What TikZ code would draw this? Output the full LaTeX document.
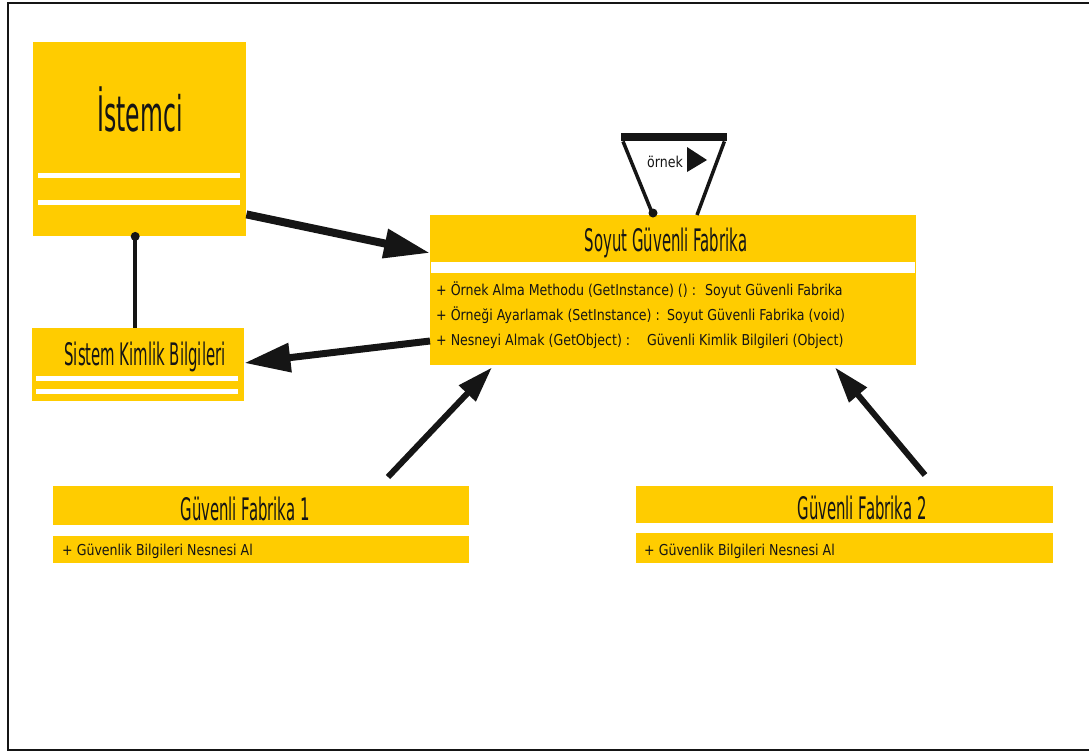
\documentclass[tikz,border=0pt]{standalone}
\usepackage{fontspec}
\usetikzlibrary{arrows.meta}
\setmainfont{DejaVu Sans}
\newfontfamily\titlefont{DejaVu Sans}[FakeStretch=0.48]
\newfontfamily\bodyfont{DejaVu Sans}[FakeStretch=0.84]
\definecolor{umlyellow}{HTML}{FFCC00}
\definecolor{ink}{HTML}{151515}
\tikzset{
  classbox/.style={fill=umlyellow, draw=none, inner sep=0pt, anchor=north west},
  titletext/.style={anchor=base, inner sep=0pt, text=ink, font=\titlefont\fontsize{31}{34}\selectfont},
  bigtitle/.style={titletext, font=\titlefont\fontsize{49}{54}\selectfont},
  optext/.style={anchor=base west, inner sep=0pt, text=ink, font=\bodyfont\fontsize{15}{18}\selectfont},
  divider/.style={draw=white, line width=5pt},
  band/.style={fill=white},
  bigarrow/.style={draw=ink, line width=8pt, -{Triangle[length=46pt,width=28pt]}},
  smallarrow/.style={draw=ink, line width=6pt, -{Triangle[length=36pt,width=22pt]}},
  assoc/.style={draw=ink, line width=3.5pt},
}
\begin{document}
\begin{tikzpicture}[x=1pt, y=-1pt]
\useasboundingbox (0,0) rectangle (1089,753);

% outer frame (right edge runs off the page)
\draw[ink, line width=2.5pt] (1095,3) -- (8,3) -- (8,750) -- (1095,750);

% client
\node[classbox, minimum width=213pt, minimum height=194pt] (istemci) at (33,42) {};
\node[bigtitle] (istemciT) at (140,131) {İstemci};
\draw[divider] (38,175.5) -- (240,175.5);
\draw[divider] (38,202.5) -- (240,202.5);

% system credentials
\node[classbox, minimum width=212pt, minimum height=73pt] (sistem) at (32,328) {};
\node[titletext] (sistemT) at (145,365) {Sistem Kimlik Bilgileri};
\draw[divider] (36,378) -- (238,378);
\draw[divider] (36,391) -- (238,391);

% abstract factory
\node[classbox, minimum width=486pt, minimum height=150pt] (soyut) at (430,215) {};
\node[titletext] (soyutT) at (666,251) {Soyut Güvenli Fabrika};
\fill[band] (431,262) rectangle (915,273);
\node[optext] (op1) at (436,295) {+ Örnek Alma Methodu (GetInstance) () :};
\node[optext] (op1r) at (705,295) {Soyut Güvenli Fabrika};
\node[optext] (op2) at (436,320) {+ Örneği Ayarlamak (SetInstance) :};
\node[optext] (op2r) at (667,320) {Soyut Güvenli Fabrika (void)};
\node[optext] (op3) at (436,345) {+ Nesneyi Almak (GetObject) :};
\node[optext] (op3r) at (647,345) {Güvenli Kimlik Bilgileri (Object)};

% singleton self-association
\node[fill=ink, inner sep=0pt, minimum width=106pt, minimum height=8pt, anchor=north west] (bar) at (621,133) {};
\node[optext] (ornek) at (647,167) {örnek};
\fill[ink] (687,147) -- (687,172) -- (707,160) -- cycle;
\draw[assoc] ([xshift=2pt]bar.south west) -- ([xshift=223pt]soyut.north west);
\fill[ink] ([xshift=223pt,yshift=2pt]soyut.north west) circle (4.5pt);
\draw[assoc] ([xshift=-3pt]bar.south east) -- ([xshift=267pt]soyut.north west);

% concrete factories
\node[classbox, minimum width=416pt, minimum height=77pt] (gf1) at (53,486) {};
\node[titletext] (gf1T) at (245,520) {Güvenli Fabrika 1};
\fill[band] (53,525) rectangle (469,536);
\node[optext] (gf1op) at (62,555) {+ Güvenlik Bilgileri Nesnesi Al};

\node[classbox, minimum width=417pt, minimum height=77pt] (gf2) at (636,486) {};
\node[titletext] (gf2T) at (862,519) {Güvenli Fabrika 2};
\fill[band] (636,523) rectangle (1053,533);
\node[optext] (gf2op) at (644,555) {+ Güvenlik Bilgileri Nesnesi Al};

% client to credentials
\draw[assoc, line width=4pt] ([xshift=-4.5pt]istemci.south) -- ([xshift=-4.5pt]istemci.south |- sistem.north);
\fill[ink] ([xshift=-4.5pt]istemci.south) circle (4.5pt);

% directed relations
\draw[bigarrow] ([yshift=22pt]istemci.south east) -- ([yshift=-38pt]soyut.north west);
\draw[bigarrow, line width=7pt] ([yshift=-126pt]soyut.north west) -- ([yshift=-35pt]sistem.north east);
\draw[smallarrow] ([xshift=335pt,yshift=9pt]gf1.north west) -- ([xshift=62pt,yshift=-2pt]soyut.south west);
\draw[smallarrow] ([xshift=289pt,yshift=11pt]gf2.north west) -- ([xshift=405pt,yshift=-2pt]soyut.south west);
\end{tikzpicture}
\end{document}
